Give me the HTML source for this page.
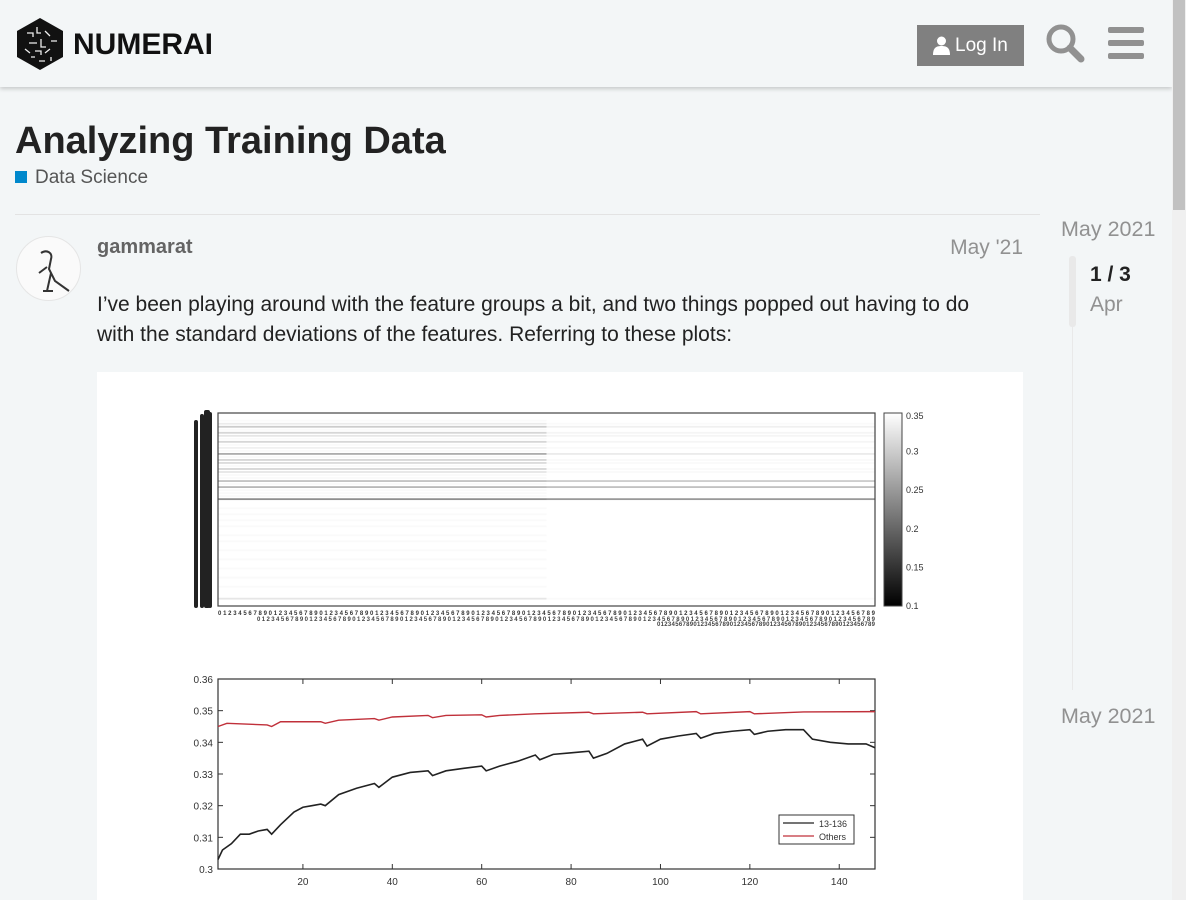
<!DOCTYPE html>
<html><head><meta charset="utf-8"><style>
*{margin:0;padding:0;box-sizing:border-box}
body{width:1186px;height:900px;overflow:hidden;background:#f3f6f7;font-family:"Liberation Sans",sans-serif;position:relative}
.a{position:absolute}
</style></head><body>
<div class="a" style="left:0;top:0;width:1172px;height:87px;background:#f3f6f7;box-shadow:0 2px 4px rgba(0,0,0,0.18)">
 <svg class="a" style="left:15px;top:17px" width="50" height="54" viewBox="0 0 50 54"><polygon points="25,1 48,14 48,40 25,53 2,40 2,14" fill="#111"/><g stroke="#eee" stroke-width="1.3" fill="none"><path d="M12 16h6v4M22 10v6h4M30 14l5 5M14 26h8M26 22v8h5M36 24h6M10 32l5 4M20 34h6v4M30 36l5-4M24 44h6M16 40h4M36 40v4"/></g></svg>
 <div class="a" style="left:73px;top:28px;font-size:30px;font-weight:bold;letter-spacing:0px;color:#111">NUMERAI</div>
 <div class="a" style="left:917px;top:25px;width:107px;height:41px;background:#808080;color:#fff;font-size:19px;line-height:41px;padding-left:38px">Log In</div>
 <svg class="a" style="left:933px;top:36px" width="17" height="19"><circle cx="8.5" cy="5" r="4.5" fill="#fff"/><path d="M0 19c0-7 3-9 8.5-9s8.5 2 8.5 9z" fill="#fff"/></svg>
 <svg class="a" style="left:1045px;top:23px" width="40" height="40"><circle cx="16" cy="16" r="12" stroke="#919191" stroke-width="5" fill="none"/><line x1="25" y1="25" x2="36" y2="36" stroke="#919191" stroke-width="7" stroke-linecap="round"/></svg>
 <svg class="a" style="left:1108px;top:27px" width="36" height="32"><rect y="0" width="36" height="6" rx="2" fill="#919191"/><rect y="13" width="36" height="6" rx="2" fill="#919191"/><rect y="26" width="36" height="6" rx="2" fill="#919191"/></svg>
</div>
<div class="a" style="left:1172px;top:0;width:14px;height:900px;background:#f0f0f0"><div style="position:absolute;left:1px;top:0;width:12px;height:210px;background:#c1c1c1"></div></div>
<div class="a" style="left:15px;top:120px;font-size:38px;font-weight:bold;color:#222">Analyzing Training Data</div>
<div class="a" style="left:15px;top:167px;font-size:19px;color:#555"><span style="display:inline-block;width:12px;height:12px;background:#0088cc;margin-right:8px"></span>Data Science</div>
<div class="a" style="left:15px;top:214px;width:1025px;height:1px;background:#e3e3e3"></div>
<div class="a" style="left:16px;top:236px;width:65px;height:65px;border-radius:50%;background:#fafafa;border:1px solid #e5e5e5"><svg width="65" height="65"><path d="M24 16c6-4 12 0 10 6l-2 10 6 12 14 10M30 30l-8 6M34 36l-4 18M26 54h10" stroke="#333" stroke-width="2" fill="none"/></svg></div>
<div class="a" style="left:97px;top:236px;font-size:20px;font-weight:bold;color:#646464">gammarat</div>
<div class="a" style="left:880px;width:143px;text-align:right;top:236px;font-size:21px;color:#919191">May '21</div>
<div class="a" style="left:97px;top:290px;width:912px;font-size:21px;line-height:30px;color:#222">I’ve been playing around with the feature groups a bit, and two things popped out having to do with the standard deviations of the features. Referring to these plots:</div>
<div class="a" style="left:1040px;top:0">
 <div class="a" style="left:21px;top:217px;font-size:21.5px;color:#919191;white-space:nowrap">May 2021</div>
 <div class="a" style="left:29px;top:256px;width:7px;height:71px;background:#e9e9e9;border-radius:3px"></div>
 <div class="a" style="left:32px;top:327px;width:1px;height:363px;background:#e9e9e9"></div>
 <div class="a" style="left:50px;top:263px;font-size:21px;font-weight:bold;color:#222;white-space:nowrap">1 / 3</div>
 <div class="a" style="left:50px;top:293px;font-size:21px;color:#919191">Apr</div>
 <div class="a" style="left:21px;top:704px;font-size:21.5px;color:#919191;white-space:nowrap">May 2021</div>
</div>
<svg class="a" style="left:97px;top:372px" width="926" height="528" id="img"></svg>
<script>
const NS="http://www.w3.org/2000/svg";
const svg=document.getElementById('img');
function el(t,a,p){const e=document.createElementNS(NS,t);for(const k in a)e.setAttribute(k,a[k]);(p||svg).appendChild(e);return e;}
el('rect',{x:0,y:0,width:926,height:528,fill:'#fff'});
const heatRowsLeft=[0.35,0.35,0.345,0.33,0.3,0.345,0.31,0.325,0.345,0.31,0.345,0.335,0.345,0.27,0.345,0.31,0.315,0.345,0.31,0.325,0.345,0.345,0.29,0.345,0.28,0.345,0.345,0.345,0.24,0.35,0.35,0.345,0.35,0.345,0.35,0.345,0.35,0.345,0.35,0.35,0.345,0.35,0.345,0.35,0.35,0.345,0.35,0.35,0.345,0.35,0.35,0.345,0.35,0.35,0.345,0.35,0.35,0.345,0.35,0.35,0.35,0.325,0.35,0.35];
const heatRowsRight=[0.35,0.35,0.35,0.345,0.335,0.35,0.34,0.34,0.35,0.34,0.35,0.345,0.35,0.33,0.35,0.345,0.345,0.35,0.345,0.345,0.35,0.35,0.3,0.35,0.29,0.35,0.35,0.35,0.25,0.35,0.35,0.35,0.35,0.35,0.35,0.35,0.35,0.35,0.35,0.35,0.35,0.35,0.35,0.35,0.35,0.35,0.35,0.35,0.35,0.35,0.35,0.35,0.35,0.35,0.35,0.35,0.35,0.35,0.35,0.35,0.35,0.345,0.35,0.35];
const cbTicks=[0.35,0.3,0.25,0.2,0.15,0.1];
const hx0=121,hx1=778,hy0=41,hy1=234;
function gray(v){const g=Math.round(Math.max(0,Math.min(1,(v-0.1)/0.25))*255);return `rgb(${g},${g},${g})`;}
const rh=(hy1-hy0)/heatRowsLeft.length, mid=(hx0+hx1)/2;
heatRowsLeft.forEach((v,i)=>{
 const r=el('rect',{x:hx0,y:hy0+i*rh+0.8,width:mid-hx0,height:rh-1.2,fill:gray(v)});
 
 
 const r2=el('rect',{x:mid,y:hy0+i*rh+0.8,width:hx1-mid,height:rh-1.2,fill:gray(heatRowsRight[i])});
 
 
});
el('rect',{x:hx0,y:hy0,width:hx1-hx0,height:hy1-hy0,fill:'none',stroke:'#444','stroke-width':1.2});
[[97,101,48,236],[103,107,42,236],[107,113,38,236],[111,115,40,236]].forEach(s=>el('rect',{x:s[0],y:s[2],width:s[1]-s[0],height:s[3]-s[2],fill:'#222',rx:2}));
let lbl='';for(let i=0;i<130;i++)lbl+=String(i%10);
el('text',{x:hx0,y:243,'font-size':6,'font-weight':'bold','font-family':'Liberation Sans','fill':'#333',textLength:hx1-hx0}).textContent=lbl;
el('text',{x:160,y:249,'font-size':6,'font-weight':'bold','font-family':'Liberation Sans','fill':'#444',textLength:hx1-160}).textContent=lbl;
el('text',{x:560,y:254,'font-size':6,'font-weight':'bold','font-family':'Liberation Sans','fill':'#444',textLength:hx1-560}).textContent=lbl.slice(0,60);
const cbx=787,cbw=18;
const gd=el('linearGradient',{id:'cbg',x1:0,y1:1,x2:0,y2:0},el('defs',{}));
el('stop',{offset:0,'stop-color':'#000'},gd);el('stop',{offset:1,'stop-color':'#fff'},gd);
const cb=el('rect',{x:cbx,y:hy0,width:cbw,height:hy1-hy0,fill:'url(#cbg)',stroke:'#444'});


cbTicks.forEach(t=>{const y=hy1-(t-0.1)/0.25*(hy1-hy0);const tx=el('text',{x:cbx+cbw+4,y:y+3+(t===0.35?3:0),'font-size':9,fill:'#333','font-family':'Liberation Sans'});tx.textContent=String(t);});
const xBlack=[1,2,4,6,8,10,12,13,15,18,20,22,24,25,28,32,36,37,40,44,48,49,52,56,60,61,64,68,72,73,76,80,84,85,88,92,96,97,100,104,108,109,112,116,120,121,124,128,132,134,138,142,146,148];
const yBlack=[0.303,0.306,0.308,0.311,0.311,0.312,0.3125,0.311,0.314,0.318,0.3195,0.32,0.3205,0.32,0.3235,0.3255,0.327,0.3258,0.329,0.3305,0.331,0.3295,0.331,0.3318,0.3325,0.331,0.3325,0.334,0.336,0.3345,0.3362,0.3367,0.3372,0.335,0.3365,0.3395,0.341,0.3388,0.341,0.342,0.3428,0.3413,0.3428,0.3435,0.344,0.3425,0.3435,0.344,0.344,0.341,0.34,0.3395,0.3395,0.3383];
const xRed=[1,3,12,13,15,24,25,28,36,37,40,48,49,52,60,61,64,72,84,85,96,97,108,109,120,121,132,148];
const yRed=[0.345,0.346,0.3455,0.345,0.3465,0.3465,0.346,0.347,0.3475,0.347,0.348,0.3485,0.3478,0.3485,0.3487,0.348,0.3485,0.349,0.3495,0.349,0.3495,0.349,0.3497,0.349,0.3497,0.349,0.3496,0.3497];
const xTicks=[20,40,60,80,100,120,140];
const yTicks=[0.3,0.31,0.32,0.33,0.34,0.35,0.36];
const px0=121,px1=778,py0=307,py1=497;
const sx=v=>px0+(v-1)/(148-1)*(px1-px0);
const sy=v=>py1-(v-0.3)/0.06*(py1-py0);
el('rect',{x:px0,y:py0,width:px1-px0,height:py1-py0,fill:'#fff',stroke:'#333','stroke-width':1.2});
xTicks.forEach(t=>{el('line',{x1:sx(t),x2:sx(t),y1:py1,y2:py1-5,stroke:'#333'});el('line',{x1:sx(t),x2:sx(t),y1:py0,y2:py0+5,stroke:'#333'});const tx=el('text',{x:sx(t),y:py1+16,'text-anchor':'middle','font-size':10,fill:'#333','font-family':'Liberation Sans'});tx.textContent=t;});
yTicks.forEach(t=>{el('line',{x1:px0,x2:px0+5,y1:sy(t),y2:sy(t),stroke:'#333'});el('line',{x1:px1,x2:px1-5,y1:sy(t),y2:sy(t),stroke:'#333'});const tx=el('text',{x:px0-5,y:sy(t)+4,'text-anchor':'end','font-size':10,fill:'#333','font-family':'Liberation Sans'});tx.textContent=t;});
const lb=el('polyline',{points:xBlack.map((x,i)=>sx(x)+','+sy(yBlack[i])).join(' '),fill:'none',stroke:'#222','stroke-width':1.6});


const lr=el('polyline',{points:xRed.map((x,i)=>sx(x)+','+sy(yRed[i])).join(' '),fill:'none',stroke:'#c0303a','stroke-width':1.4});


const lg=el('g',{});


el('rect',{x:682,y:443,width:75,height:29,fill:'#fff',stroke:'#333'},lg);
el('line',{x1:686,x2:717,y1:451,y2:451,stroke:'#222','stroke-width':1.3},lg);
el('line',{x1:686,x2:717,y1:464,y2:464,stroke:'#c0303a','stroke-width':1.3},lg);
el('text',{x:722,y:455,'font-size':9,fill:'#333','font-family':'Liberation Sans'},lg).textContent='13-136';
el('text',{x:722,y:468,'font-size':9,fill:'#333','font-family':'Liberation Sans'},lg).textContent='Others';
</script>
</body></html>
